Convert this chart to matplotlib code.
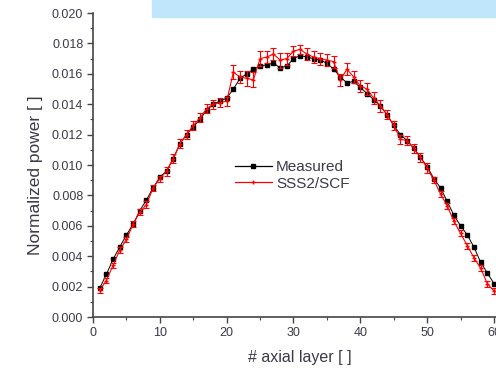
import matplotlib.pyplot as plt
from matplotlib.patches import Rectangle
from matplotlib.lines import Line2D

plt.rcParams['font.family'] = ['Liberation Sans', 'DejaVu Sans']

layers = list(range(1, 61))

measured = [0.0019, 0.0028, 0.0038, 0.0046, 0.0054, 0.0061, 0.0070, 0.0077, 0.0085, 0.0092,
            0.0096, 0.0104, 0.0114, 0.0120, 0.0125, 0.0130, 0.0136, 0.0140, 0.0142, 0.0144,
            0.0150, 0.0157, 0.0160, 0.0163, 0.0165, 0.0166, 0.0167, 0.0164, 0.0165, 0.0170,
            0.0172, 0.0171, 0.0170, 0.0169, 0.0167, 0.0163, 0.0158, 0.0154, 0.0155, 0.0151,
            0.0147, 0.0143, 0.0139, 0.0133, 0.0126, 0.0120, 0.0116, 0.0111, 0.0105, 0.0099,
            0.0091, 0.0085, 0.0076, 0.0067, 0.0060, 0.0054, 0.0046, 0.0036, 0.0029, 0.0022]

sss2 = [0.00175, 0.0024, 0.0034, 0.0044, 0.0051, 0.0061, 0.0069, 0.0074, 0.0085, 0.0091,
        0.0096, 0.0104, 0.0114, 0.0120, 0.0126, 0.0131, 0.0137, 0.0140, 0.0141, 0.0142,
        0.0161, 0.0158, 0.0157, 0.0156, 0.0170, 0.0171, 0.0173, 0.0169, 0.0170, 0.0175,
        0.0176, 0.0173, 0.0171, 0.0170, 0.0169, 0.0168, 0.0156, 0.0163, 0.0158, 0.0152,
        0.0150, 0.0144, 0.0139, 0.0133, 0.0126, 0.0117, 0.0116, 0.0111, 0.0105, 0.0098,
        0.0090, 0.0081, 0.0073, 0.0063, 0.0055, 0.0047, 0.0039, 0.0032, 0.0022, 0.0017]

sss2_err = [0.00015, 0.00015, 0.00015, 0.00018, 0.00018, 0.0002, 0.0002, 0.0002, 0.0002, 0.0002,
            0.0003, 0.0003, 0.0003, 0.0003, 0.0003, 0.0003, 0.0003, 0.0003, 0.0003, 0.0003,
            0.00045, 0.0004, 0.0005, 0.0005, 0.0005, 0.0004, 0.0004, 0.0005, 0.0004, 0.0003,
            0.0003, 0.0004, 0.0004, 0.0004, 0.0004, 0.0004, 0.0004, 0.0004, 0.0004, 0.0004,
            0.0004, 0.0004, 0.0004, 0.0003, 0.0003, 0.0003, 0.0003, 0.0003, 0.0003, 0.0003,
            0.0002, 0.0002, 0.0002, 0.0002, 0.0002, 0.0002, 0.0002, 0.0002, 0.0002, 0.0002]

txt = '#3a3a48'

fig = plt.figure(figsize=(4.96, 3.73), dpi=100)
ax = fig.add_axes([93 / 496, 56 / 373, (496 - 93) / 496, (317 - 13) / 373])

ax.plot(layers, measured, color='black', lw=0.7, marker='s', ms=3.5, zorder=2)
ax.errorbar(layers, sss2, yerr=sss2_err, color='red', lw=0.8, marker='+', ms=3,
            elinewidth=0.8, capsize=2.5, capthick=0.8, zorder=3)

ax.set_xlim(0, 60.3)
ax.set_ylim(0, 0.020)
ax.set_xticks(range(0, 61, 10))
ax.set_xticks(range(5, 61, 10), minor=True)
ax.set_yticks([i * 0.002 for i in range(11)])
ax.set_yticks([0.001 + i * 0.002 for i in range(10)], minor=True)
ax.set_yticklabels(['%.3f' % (i * 0.002) for i in range(11)])

for s in ['top', 'right']:
    ax.spines[s].set_visible(False)
for s in ['left', 'bottom']:
    ax.spines[s].set_color('#444444')
    ax.spines[s].set_linewidth(1.2)

ax.tick_params(which='both', direction='out', colors='#444444', labelcolor=txt, labelsize=9)
ax.tick_params(which='major', length=4, width=1, pad=3)
ax.tick_params(which='minor', length=2.5, width=0.8)

ax.set_xlabel('# axial layer [ ]', fontsize=11.5, color=txt)
ax.xaxis.set_label_coords(0.514, -0.108)
ax.set_ylabel('Normalized power [ ]', fontsize=12.5, color=txt)
ax.yaxis.set_label_coords(-0.125, 0.467)

handles = [Line2D([], [], color='black', lw=0.9, marker='s', ms=3),
           Line2D([], [], color='red', lw=0.9, marker='+', ms=3)]
ax.legend(handles, ['Measured', 'SSS2/SCF'], loc='upper left', bbox_to_anchor=(0.352, 0.515),
          frameon=False, fontsize=11, borderpad=0, borderaxespad=0, numpoints=1,
          handlelength=2.4, handletextpad=0.3, labelspacing=0.15, labelcolor=txt)

fig.patches.append(Rectangle((152 / 496, 1 - 17 / 373), 1, 17 / 373, transform=fig.transFigure,
                             color='#bfe6fb', zorder=5))

fig.savefig('out.png', dpi=100)
